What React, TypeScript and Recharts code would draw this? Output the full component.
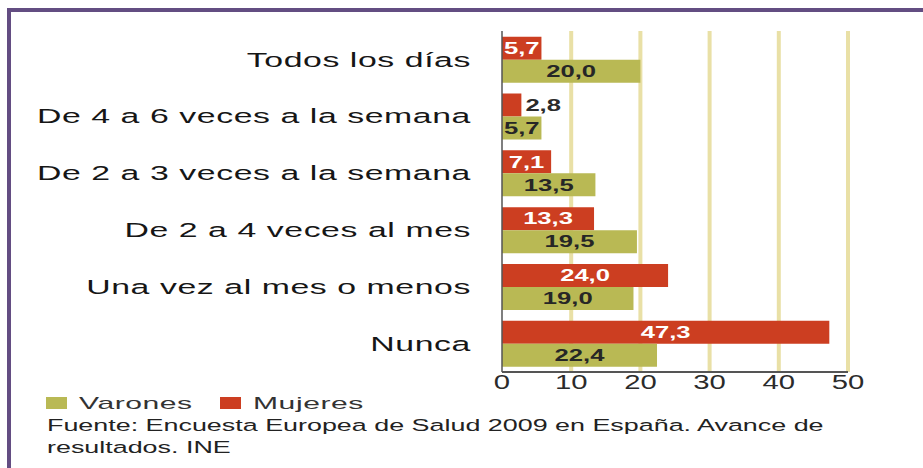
import React from "react"
import { BarChart, Bar, XAxis, YAxis, CartesianGrid, LabelList } from "recharts"

const categories = [
  "Todos los días",
  "De 4 a 6 veces a la semana",
  "De 2 a 3 veces a la semana",
  "De 2 a 4 veces al mes",
  "Una vez al mes o menos",
  "Nunca",
]
const mujeres = [5.7, 2.8, 7.1, 13.3, 24.0, 47.3]
const varones = [20.0, 5.7, 13.5, 19.5, 19.0, 22.4]
const xTicks = [0, 10, 20, 30, 40, 50]
const gridTicks = [10, 20, 30, 40, 50]
const legendItems = [
  { name: "Varones", color: "#b9b954" },
  { name: "Mujeres", color: "#cc3e21" },
]
const sourceLines = [
  "Fuente: Encuesta Europea de Salud 2009 en España. Avance de",
  "resultados. INE",
]

const data = categories.map((c, i) => ({ cat: c, mujeres: mujeres[i], varones: varones[i] }))

const FONT = '"Liberation Sans", Arial, Helvetica, sans-serif'
const W = 923
const H = 468
const X_MAX = 50

const fmt = (v: number) => v.toFixed(1).replace(".", ",")

// wide text: the reference type is stretched sideways
function WideText({ x, y, sx, anchor, size, ls, fill, weight, dy, children }: any) {
  return (
    <g transform={`translate(${x},${y})`}>
      <text
        transform={`scale(${sx},1)`}
        textAnchor={anchor}
        dy={dy}
        fontFamily={FONT}
        fontSize={size}
        fontWeight={weight || "normal"}
        letterSpacing={ls}
        fill={fill}
      >
        {children}
      </text>
    </g>
  )
}

function CatTick({ x, y, payload }: any) {
  return (
    <WideText x={x + 1} y={y} sx={1.65} anchor="end" size={20.5} ls={0.35} fill="#161616" dy="0.35em">
      {payload.value}
    </WideText>
  )
}

function NumTick({ x, y, payload }: any) {
  return (
    <WideText x={x} y={y} sx={1.5} anchor="middle" size={19.5} ls={0} fill="#2b2b2b" dy="0.71em">
      {payload.value}
    </WideText>
  )
}

function barLabel(inColor: string) {
  return (p: any) => {
    const { x, y, width, height, value } = p
    const cy = y + height / 2
    if (value < 4) {
      return (
        <WideText x={x + width + 4} y={cy} sx={1.6} anchor="start" size={16} ls={0} fill="#2b2b2b" weight="bold" dy="0.36em">
          {fmt(value)}
        </WideText>
      )
    }
    return (
      <WideText x={x + width / 2} y={cy} sx={1.6} anchor="middle" size={16} ls={0} fill={inColor} weight="bold" dy="0.36em">
        {fmt(value)}
      </WideText>
    )
  }
}

function gridX({ xAxis, offset }: any) {
  if (xAxis && typeof xAxis.scale === "function") return gridTicks.map((t) => xAxis.scale(t))
  return gridTicks.map((t) => offset.left + (t / X_MAX) * offset.width)
}

export default function App() {
  return (
    <div style={{ position: "absolute", left: 0, top: 0, width: W, height: H, background: "#fff" }}>
      <BarChart
        width={W}
        height={H}
        data={data}
        layout="vertical"
        margin={{ top: 31, right: 75, bottom: 66, left: 0 }}
        barGap={0}
      >
        <CartesianGrid
          horizontal={false}
          stroke="#e9e0a6"
          strokeWidth={4}
          verticalCoordinatesGenerator={gridX}
        />
        <XAxis
          type="number"
          domain={[0, X_MAX]}
          ticks={xTicks}
          height={30}
          tickSize={0}
          tickMargin={3}
          axisLine={{ stroke: "#555", strokeWidth: 2 }}
          tickLine={false}
          tick={<NumTick />}
          interval={0}
        />
        <YAxis
          type="category"
          dataKey="cat"
          width={502}
          tickSize={0}
          tickMargin={32}
          axisLine={{ stroke: "#555", strokeWidth: 1.5 }}
          tickLine={false}
          tick={<CatTick />}
          interval={0}
        />
        <Bar dataKey="mujeres" fill="#cc3e21" isAnimationActive={false}>
          <LabelList dataKey="mujeres" content={barLabel("#ffffff")} />
        </Bar>
        <Bar dataKey="varones" fill="#b9b954" isAnimationActive={false}>
          <LabelList dataKey="varones" content={barLabel("#262626")} />
        </Bar>
      </BarChart>
      <svg width={W} height={H} style={{ position: "absolute", left: 0, top: 0, pointerEvents: "none" }}>
        <rect x={7} y={8} width={W - 7} height={4} fill="#634d82" />
        <rect x={7} y={8} width={4} height={H - 8} fill="#634d82" />
        {legendItems.map((it, i) => {
          const lx = 46 + i * 174
          return (
            <g key={it.name}>
              <rect x={lx} y={397} width={21} height={12} fill={it.color} />
              <WideText x={lx + 33} y={409} sx={1.88} anchor="start" size={16} ls={0.3} fill="#333">
                {it.name}
              </WideText>
            </g>
          )
        })}
        {sourceLines.map((s, i) => (
          <WideText key={i} x={47} y={431 + i * 22} sx={1.63} anchor="start" size={16.5} ls={0} fill="#222">
            {s}
          </WideText>
        ))}
      </svg>
    </div>
  )
}
